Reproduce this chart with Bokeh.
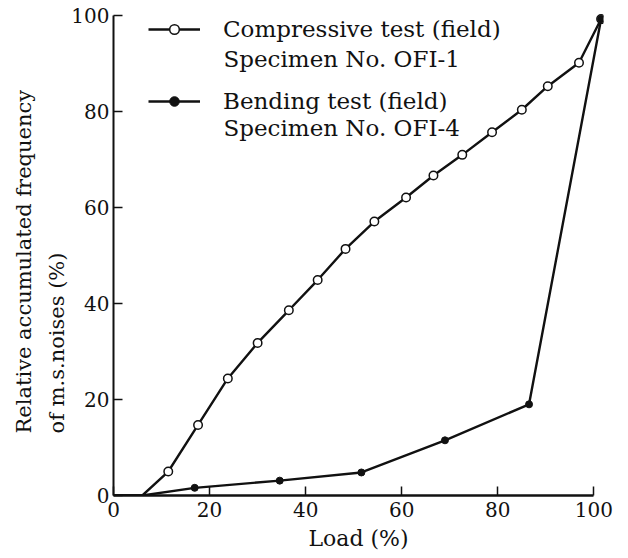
from bokeh.plotting import figure
from bokeh.models import Range1d, Legend, LegendItem, Label, Title
from bokeh.embed import file_html
from bokeh.resources import INLINE

# Compressive test (field), specimen OFI-1: load (%) vs relative accumulated frequency (%)
comp_load = [0, 6, 11.4, 17.6, 23.8, 30.0, 36.5, 42.5, 48.3, 54.3, 60.9, 66.6, 72.6, 78.8, 85.0, 90.4, 96.9, 101.5]
comp_freq = [0, 0, 5.0, 14.7, 24.4, 31.8, 38.6, 44.9, 51.4, 57.1, 62.1, 66.7, 71.0, 75.7, 80.4, 85.3, 90.2, 99.3]

# Bending test (field), specimen OFI-4
bend_load = [0, 6, 16.9, 34.6, 51.6, 69.0, 86.5, 101.5]
bend_freq = [0, 0, 1.6, 3.1, 4.8, 11.5, 19.0, 99.3]

ticks = [0, 20, 40, 60, 80, 100]

FONT = "DejaVu Serif"
INK = "#111111"

p = figure(
    frame_width=490, frame_height=487,
    x_range=Range1d(0, 102), y_range=Range1d(0, 101.5),
    min_border_left=113, min_border_right=25, min_border_top=8, min_border_bottom=63,
    output_backend="svg", toolbar_location=None,
    background_fill_color="white", border_fill_color="white",
)
p.outline_line_color = None
p.grid.visible = False

for ax in (p.xaxis[0], p.yaxis[0]):
    ax.ticker = ticks
    ax.bounds = (0, 100)
    ax.axis_line_color = INK
    ax.major_tick_line_color = INK
    ax.major_tick_line_width = 1.5
    ax.major_tick_in = 9
    ax.major_tick_out = 0
    ax.minor_tick_line_color = None
    ax.major_label_text_font = FONT
    ax.major_label_text_font_size = "20px"
    ax.major_label_text_color = INK

p.xaxis.axis_line_width = 2.5
p.yaxis.axis_line_width = 2
p.xaxis.major_label_standoff = 6
p.yaxis.major_label_standoff = 4
p.xaxis.axis_label = "Load (%)"
p.xaxis.axis_label_text_font = FONT
p.xaxis.axis_label_text_font_size = "22px"
p.xaxis.axis_label_text_font_style = "normal"
p.xaxis.axis_label_text_color = INK
p.xaxis.axis_label_standoff = 6

# The first two vertices of each series are the unmarked run along the axis
comp_line = p.line(comp_load, comp_freq, line_width=2.4, line_color=INK)
comp_pts = p.scatter(comp_load[2:], comp_freq[2:], marker="circle", size=8.5,
                     fill_color="white", line_color=INK, line_width=1.5)
bend_line = p.line(bend_load, bend_freq, line_width=2.4, line_color=INK)
bend_pts = p.scatter(bend_load[2:], bend_freq[2:], marker="circle", size=7,
                     fill_color=INK, line_color=INK, line_width=1)

legend = Legend(
    items=[
        LegendItem(label="Compressive test (field)", renderers=[comp_line, comp_pts]),
        LegendItem(label="Bending test (field)", renderers=[bend_line, bend_pts]),
    ],
    location=(35, 381), orientation="vertical",
    glyph_width=52, glyph_height=24, label_height=24, label_standoff=23,
    spacing=46, padding=0, margin=0,
    border_line_color=None, background_fill_alpha=0,
    label_text_font=FONT, label_text_font_size="23px", label_text_color=INK,
)
p.add_layout(legend)

# Second line of each legend entry
for text, y in (("Specimen No. OFI-1", 437), ("Specimen No. OFI-4", 368)):
    p.add_layout(Label(x=110, y=y, x_units="screen", y_units="screen", text=text,
                       text_font=FONT, text_font_size="23px", text_color=INK,
                       text_align="left", text_baseline="middle"))

# Two-line vertical axis title, both lines starting from the same point
for text, gap in (("of m.s.noises (%)", 0), ("Relative accumulated frequency", 14)):
    p.add_layout(Title(text=text, align="left", offset=62, standoff=gap,
                       text_font=FONT, text_font_size="21px", text_font_style="normal",
                       text_color=INK), "left")

open("out.html", "w").write(file_html(p, INLINE))
